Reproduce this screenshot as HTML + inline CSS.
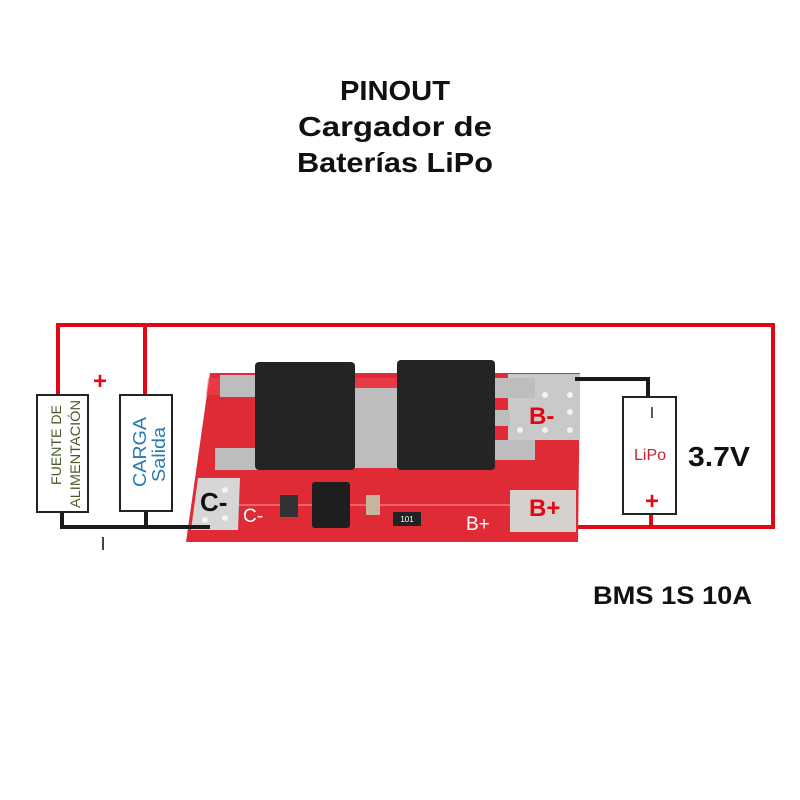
<!DOCTYPE html>
<html><head><meta charset="utf-8"><style>
html,body{margin:0;padding:0;background:#fff;}
svg{display:block;font-family:"Liberation Sans",sans-serif;}
</style></head><body>
<svg width="800" height="800" viewBox="0 0 800 800" xmlns="http://www.w3.org/2000/svg">
<rect width="800" height="800" fill="#fff"/>
<g font-weight="bold" font-size="28" fill="#111">
<text x="340" y="100" textLength="110" lengthAdjust="spacingAndGlyphs">PINOUT</text>
<text x="298" y="136" textLength="194" lengthAdjust="spacingAndGlyphs">Cargador de</text>
<text x="297" y="172" textLength="196" lengthAdjust="spacingAndGlyphs">Baterías LiPo</text>
</g>
<!-- red wires -->
<g stroke="#e30613" stroke-width="4" fill="none">
<polyline points="58,395 58,325 773,325 773,527 525,527"/>
<line x1="145" y1="325" x2="145" y2="395"/>
<line x1="651" y1="514" x2="651" y2="527"/>
</g>
<text x="100" y="389" font-size="24" font-weight="bold" fill="#e30613" text-anchor="middle">+</text>
<!-- board -->
<polygon points="210,373 580,373 578,542 186,542" fill="#e02a36"/>
<polygon points="208,378 578,378 576,395 206,395" fill="#ee4a52" opacity="0.5"/>
<line x1="195" y1="505" x2="575" y2="505" stroke="#f7a0a5" stroke-width="1"/>
<!-- pads -->
<rect x="508" y="374" width="72" height="66" fill="#c9c9c9"/>
<g fill="#f2f2f2">
<circle cx="520" cy="395" r="3"/><circle cx="545" cy="395" r="3"/><circle cx="570" cy="395" r="3"/>
<circle cx="520" cy="430" r="3"/><circle cx="545" cy="430" r="3"/><circle cx="570" cy="430" r="3"/>
<circle cx="570" cy="412" r="3"/>
</g>
<rect x="510" y="490" width="66" height="42" fill="#d4d0cc"/>
<polygon points="198,478 240,478 238,530 191,530" fill="#d6d6d6"/>
<g fill="#f2f2f2"><circle cx="225" cy="490" r="3"/><circle cx="225" cy="518" r="3"/><circle cx="205" cy="520" r="3"/></g>
<!-- tabs -->
<g fill="#bdbdbd">
<rect x="220" y="375" width="40" height="22"/>
<rect x="215" y="448" width="45" height="22"/>
<rect x="355" y="388" width="42" height="80"/>
<rect x="490" y="378" width="45" height="20"/>
<rect x="490" y="440" width="45" height="20"/>
<rect x="490" y="410" width="20" height="16"/>
</g>
<!-- mosfets -->
<rect x="255" y="362" width="100" height="108" rx="4" fill="#242424"/>
<rect x="397" y="360" width="98" height="110" rx="4" fill="#242424"/>
<!-- small components -->
<rect x="312" y="482" width="38" height="46" rx="3" fill="#1e1e1e"/>
<rect x="280" y="495" width="18" height="22" fill="#333"/>
<rect x="366" y="495" width="14" height="20" fill="#c8b49a"/>
<rect x="393" y="512" width="28" height="14" fill="#222"/>
<text x="407" y="522" font-size="8" fill="#fff" text-anchor="middle">101</text>
<!-- pad labels -->
<text x="529" y="424" font-size="24" font-weight="bold" fill="#e30613">B-</text>
<text x="529" y="516" font-size="24" font-weight="bold" fill="#e30613">B+</text>
<text x="466" y="530" font-size="19" fill="#fff">B+</text>
<text x="243" y="522" font-size="19" fill="#fff">C-</text>
<text x="200" y="511" font-size="26" font-weight="bold" fill="#111">C-</text>
<!-- black wires -->
<g stroke="#1a1a1a" stroke-width="4" fill="none">
<polyline points="62,512 62,527 210,527"/>
<line x1="146" y1="511" x2="146" y2="527"/>
<polyline points="575,379 648,379 648,397"/>
</g>
<text x="103" y="550" font-size="18" fill="#222" text-anchor="middle">I</text>
<!-- boxes -->
<g fill="#fff" stroke="#222" stroke-width="2">
<rect x="37" y="395" width="51" height="117"/>
<rect x="120" y="395" width="52" height="116"/>
<rect x="623" y="397" width="53" height="117"/>
</g>
<g font-size="14" fill="#4a5a2a">
<text transform="translate(61,485) rotate(-90)" textLength="80" lengthAdjust="spacingAndGlyphs">FUENTE DE</text>
<text transform="translate(80,508) rotate(-90)" textLength="108" lengthAdjust="spacingAndGlyphs">ALIMENTACIÓN</text>
</g>
<g font-size="18" fill="#2a7ab5">
<text transform="translate(146,487) rotate(-90)" textLength="70" lengthAdjust="spacingAndGlyphs">CARGA</text>
<text transform="translate(165,482) rotate(-90)" textLength="55" lengthAdjust="spacingAndGlyphs">Salida</text>
</g>
<text x="650" y="460" font-size="16" fill="#c8202a" text-anchor="middle">LiPo</text>
<text x="652" y="418" font-size="16" fill="#222" text-anchor="middle">I</text>
<text x="652" y="509" font-size="24" font-weight="bold" fill="#e30613" text-anchor="middle">+</text>
<text x="688" y="466" font-size="28" font-weight="bold" fill="#111" textLength="62" lengthAdjust="spacingAndGlyphs">3.7V</text>
<text x="593" y="604" font-size="25" font-weight="bold" fill="#111" textLength="159" lengthAdjust="spacingAndGlyphs">BMS 1S 10A</text>
</svg>
</body></html>
